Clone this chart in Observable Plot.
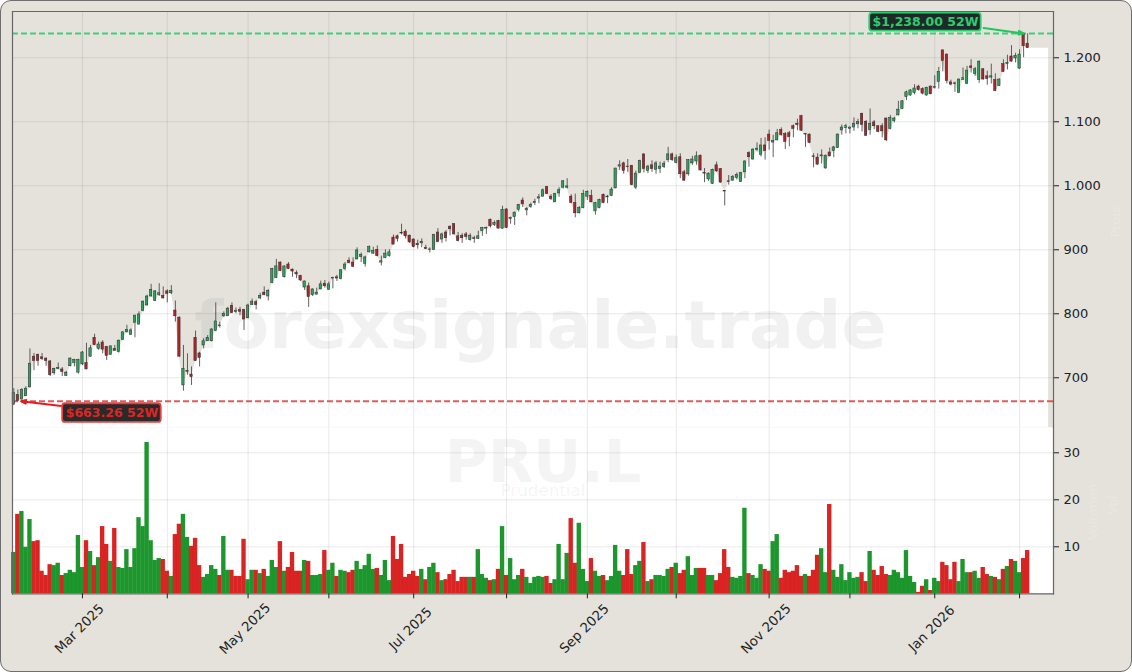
<!DOCTYPE html>
<html>
<head>
<meta charset="utf-8">
<script src="https://cdn.jsdelivr.net/npm/d3@7"></script>
<script src="https://cdn.jsdelivr.net/npm/@observablehq/plot@0.6"></script>
<style>
html,body{margin:0;padding:0;background:#fff;}
#fig{position:relative;width:1130px;height:670px;background:#e5e2dc;border:1px solid #6e6e6e;border-radius:11px;overflow:hidden;font-family:"DejaVu Sans",sans-serif;}
#page{position:absolute;left:-1px;top:-1px;width:1132px;height:672px;}
.side{position:absolute;color:#e9e7e2;font-size:13px;transform:translate(-50%,-50%) rotate(-90deg);white-space:nowrap;}
</style>
</head>
<body>
<div id="fig"><div id="page"></div></div>
<script>
const opens = [658,673,666,671,685,733,736,732,730,725.5,707,713.5,713,703,718,723,708,721,723,733,762.5,745,755,748,736,745,740,759,771,767,786,783,804,813,827,820,829,828,835,832,805,794,688,709,705,762.5,738,750.5,757,757,773,781.7,796,796,812.5,804,806,806,793,813.5,818,824,833,827,
848,856,880,857,877,869,863.5,859,841,843,829,830,838,847,837.5,855,857,854,870,883,880,885,888.5,878,896,894,900,880,887.5,890,919,921,926.6,928,922,916,909,910,903,899.5,899.5,927,916,927,936,940,921,922,924,915,918,917,929,933,947,938.5,945,933,963,948,951,962.5,
977,961.5,967,973,980,983,998,983,974,988,997,997,983,973,957,965,983,984,960,965,986,982,984,996,1030,1035,1030,1031,997,1020,1049,1023,1032,1025,1026,1029,1040,1049,1036,1044.5,1021,1018,1035,1038,1047,1020,1010,1003,1032,1026,992,1007,1008,1012.5,1006,1021,1051,1041,1056,1048,1063,1080,1067.5,1071,1087,1081,1082,1093,1097,1109,
1080,1080,1046,1044,1046,1027,1052,1054,1059,1086.5,1090,1089,1091,1096,1112.5,1100,1087,1099,1093,1093,1105,1089,1101,1110,1120,1138.5,1141,1145,1155,1151,1141,1155,1153,1162.5,1211.5,1205,1161.5,1160,1145,1165,1159,1186.5,1174.5,1165,1182,1171,1169,1165,1156,1190,1190,1202,1199,1183,1237.5,1222];
const highs = [683,681,683,686,745,738,737,738,731,727,715,723,716,710,731,729,729,741,754,750.5,768,756,758,749,750,750.5,759,772,782,776.5,798,803,820,829,846,836,847,842,837.5,844,820,795,750.5,737.5,717,773,740,761,766,776.5,817,787,803,810,817,809,810,807,815,823,821,832,842,837.5,
871,885,881,875,880,870,867,860,851,848,839,840,851,852,849.5,857,860,869,880,887.5,887.5,903,895,890,906,904,906,890,900,900,923,923,940,931,923,917,915,917,907,903,924,933,926,930,937.5,941,927,925,927,925,921,929,935,935.4,948,945,946,968,964,951,959,971,
981,966,973,979,986.5,995,999,986,988,997,1008,1011,986,987,967.5,993,992,993,974,979,987,985,997,1027,1039,1037,1041,1032,1023,1040,1050,1032,1039,1038,1037,1038,1060,1051,1048,1050,1024,1041,1046,1053,1048,1027,1020,1026,1037,1027,992.6,1016,1016,1020,1021,1039,1053,1058,1067,1074,1075,1087,1079,1088,1090.5,1083,1085,1095,1104,1110,
1081.5,1081,1050,1050,1056,1048,1059,1061.5,1081,1095,1096,1092,1106,1104,1113.5,1102,1120,1102,1094,1097,1106,1110,1107,1132,1133,1148,1150,1158,1157,1153,1154,1156,1172,1185,1212.5,1206,1165,1162,1167,1184,1186.5,1197,1185,1195,1183,1179,1190,1175,1167,1197,1204,1219,1207,1212.5,1238,1237.5];
const lows = [657,662.5,665,671,684,711,718,727,718,702,704,712.5,702,702,717,717,706,719,712.5,732,750,743,737.5,727,735,741.6,738.5,758,770,766,762.5,783,803,812,826,819,827,823,817,830,787,732,679,704,688,725.5,717,745,757,756,772,777.6,794,796,800,800,797,774,792,813,806,822,828,820,
847,855,866,856,869,857,855,850.5,836.5,810,827,829,837.5,840,836.5,839,850.5,853,867,878,872,884,880,873,895,893,889,875,886,888.5,908,912,923,917,910,903,901,903,900,895,899,911,910,912,922,923,912.5,910,915,913.5,910,916,921,924,934,936.5,933,932,933,940,938,959,
966,953,965,969,972,982,986,977,974,982,995,995,972,950,956,964,977,974,954,964,972,972,983,995,1024,1018,1021,1000,994,1019,1020,1019,1021,1018,1019,1027,1036,1038,1034.5,1011,1007,1015,1032,1032,1023,1005,1007,1002,1021,1004,968.5,1001,1007,1009,1005,1011,1029,1040,1053,1045,1040,1055.5,1044,1070,1077.5,1056.5,1061,1075,1086,1085,
1060,1066,1028,1032,1034,1026,1045,1044,1058,1079,1081,1081,1085,1089,1084,1077,1079,1087.5,1083,1075,1069,1087.5,1098,1109,1119,1133,1140,1142,1148,1142,1140,1142,1151,1151,1178,1159,1156,1146,1144,1164.6,1158,1176,1171,1160,1165,1157,1159,1147,1155,1177,1181,1193,1192,1182,1200,1215];
const closes = [676,663.5,681,683,722,726,726,729,726,704,714,715.6,709,708,730,728,728,739.5,713,746,751,752,744,734,749,742,758,771,775,774,797,799,819,827,837.5,835,832,824,831,836,796,733,714,711,701,726,731,757,762.5,775.5,788,780.7,800,808,801,803,803,791,813,819,813.5,828,829,836,
870,874,867,874,870,866,861.5,852,850.5,826,838,833,846,843,846,856,855,868,877,879,873.5,899,892,888,904,898,890,882,894,896,908,917,925.5,921,911.5,904,907,912.5,901,900.5,923.5,912,924,918,932,924,913.5,918,920,922,917,921,934,934.4,936.5,942,933,962.5,934,950,958,970,
971,963.5,970,975,982,993,987,979,987,993,1007,999,973,957,965,987,990.5,974,973,978,973,983,994,1027,1032,1023,1029,1001,1019,1039,1026,1030,1026,1035,1030,1034.5,1049,1040,1043,1018,1008,1040,1041,1046,1024,1019,1019,1025,1022.5,1005,991,1006,1014,1017,1020,1038,1044.5,1056.5,1058,1063,1054,1070,1070,1082,1079,1068.5,1076,1089,1095,1086,
1081,1067,1045,1033,1047.5,1047,1046,1060,1080,1091,1093,1091,1097,1100,1095,1078,1097,1093,1084,1085,1071,1106,1105,1119,1132,1146,1149,1152,1149.5,1144,1153,1143,1154,1178,1195,1163.5,1158,1159,1166,1168,1180,1184,1182,1194,1166,1167,1171,1148,1166,1178,1192,1194,1203,1205,1218,1215];
const volumes = [8.8,16.9,17.5,9.9,15.8,11.1,11.3,4.8,3.9,6.2,6.0,6.5,3.9,4.3,5.0,4.5,12.4,5.6,11.3,9.0,6.0,7.7,14.3,10.5,6.9,13.9,5.6,5.4,9.4,5.6,9.6,16.2,14.3,32.2,11.3,7.1,7.5,7.3,4.8,3.7,12.6,14.8,16.9,12.0,10.1,11.8,6.0,3.5,4.1,6.0,5.2,3.9,12.2,5.0,5.0,3.7,3.7,11.6,3.0,5.0,5.0,4.3,5.2,3.7,
7.1,5.6,11.1,4.8,5.6,8.8,4.8,4.8,7.1,6.9,3.9,3.9,4.1,9.2,5.0,6.5,3.7,5.0,4.8,4.5,5.0,6.9,5.2,6.0,8.4,5.2,5.4,3.9,7.1,2.8,12.2,7.3,10.5,3.5,4.1,4.8,3.7,5.2,3.0,5.6,6.5,4.5,2.8,3.0,4.1,5.0,2.6,3.5,3.5,3.5,3.5,9.4,4.1,3.3,2.8,3.0,5.2,14.3,3.9,7.5,3.0,3.9,
5.2,3.5,2.2,3.5,3.7,3.5,3.7,2.2,3.0,10.5,3.0,8.6,16.0,6.5,15.0,5.2,2.6,7.5,4.8,3.7,3.9,2.8,3.7,10.3,4.8,3.9,9.4,4.1,6.0,6.9,10.9,2.6,3.0,3.9,3.9,3.7,5.2,5.6,6.5,4.3,5.0,7.9,3.9,5.4,5.4,5.4,3.9,3.9,2.8,4.3,9.4,5.6,3.5,3.3,3.7,18.2,4.3,3.9,3.3,6.2,5.2,4.8,11.1,12.6,3.3,5.0,4.5,4.8,6.0,3.7,
4.1,3.7,5.0,8.2,9.6,4.5,19.0,5.0,3.5,6.2,2.8,4.5,3.3,3.5,4.5,2.6,9.0,5.0,3.9,5.8,4.1,3.9,5.0,4.5,3.3,9.2,3.7,2.4,0.3,1.6,3.0,0.7,3.3,2.6,6.7,6.0,3.0,6.7,2.6,7.3,4.5,4.5,4.8,3.3,5.6,4.1,3.7,3.5,3.0,5.2,5.8,7.3,6.9,4.5,7.5,9.2];
const volumeRedIdx = [1,5,6,7,8,9,12,18,20,22,23,25,37,38,40,41,44,45,46,51,54,55,56,57,60,62,66,68,69,70,71,73,77,80,83,84,90,94,95,96,97,98,99,100,102,105,107,108,109,110,111,112,114,118,120,122,126,132,133,138,139,143,146,151,152,153,156,158,163,165,166,170,171,174,175,176,177,182,186,187,190,191,192,193,194,195,197,198,199,202,210,211,213,214,215,216,224,225,227,230,231,232,233,237,240,241,243,245,247,250,251];
const tickIndex = [17,38,58,78,99,122,142,164,187,207,228,249];
const tickLabels = [{i:17,t:"Mar 2025"},{i:58,t:"May 2025"},{i:99,t:"Jul 2025"},{i:142,t:"Sep 2025"},{i:187,t:"Nov 2025"},{i:228,t:"Jan 2026"}];
const priceTicks = [700,800,900,1000,1100,1200];
const volumeTicks = [10,20,30];
const low52 = 663.26, high52 = 1238;

const candles = opens.map((o,i)=>({i,o,h:highs[i],l:lows[i],c:closes[i],up:closes[i]>=o}));
const xDom = [-0.32,257.4];
const priceTop = 1272.3, priceBottom = 622.3;
const shadeEnd = 256.2;
const lastIdx = candles.length-1;
const shade = [
  {x:xDom[0],y:Math.min(opens[0],closes[0])},
  ...candles.map(d=>({x:d.i,y:Math.min(d.o,d.c)})),
  {x:shadeEnd,y:Math.min(opens[lastIdx],closes[lastIdx])},
  {x:shadeEnd,y:priceBottom},
  {x:xDom[1],y:priceBottom}
];
const svgStyle = {position:"absolute",left:"0",background:"transparent",fontFamily:"'DejaVu Sans',sans-serif"};
const grid = {stroke:"#666",strokeOpacity:0.14,strokeWidth:1};
const frame = {stroke:"#666",strokeWidth:1.2};
const tickFmt = d=>d>=1000?d3.format(",")(d).replace(",","."):String(d);
const labelFont = {fontFamily:"'DejaVu Sans',sans-serif",fontWeight:"bold",fontSize:12.5};

const pricePlot = Plot.plot({
  width:1132,height:428,marginLeft:12,marginRight:79,marginTop:11,marginBottom:1,
  style:{...svgStyle,top:"0"},
  x:{domain:xDom,axis:null},
  y:{domain:[priceBottom,priceTop],axis:null},
  marks:[
    Plot.frame({fill:"#fff",stroke:"none"}),
    Plot.area(shade,{x1:"x",y1:()=>priceTop,y2:"y",fill:"#e5e2dc"}),
    Plot.text(["forexsignale.trade"],{x:()=>130.4,y:()=>780,text:d=>d,fontSize:66.4,fontWeight:"bold",fill:"#808080",fillOpacity:0.11,fontFamily:"'DejaVu Sans',sans-serif"}),
    Plot.ruleY(priceTicks,grid),
    Plot.ruleX(tickIndex,grid),
    Plot.ruleY([low52],{stroke:"#e04848",strokeWidth:2,strokeDasharray:"6,3",strokeOpacity:0.9}),
    Plot.ruleY([high52],{stroke:"#2ecc71",strokeWidth:2,strokeDasharray:"6,3",strokeOpacity:0.9}),
    Plot.ruleX(candles,{x:"i",y1:"l",y2:"h",stroke:"#3a3a3a",strokeWidth:0.8}),
    Plot.rect(candles,{x1:d=>d.i-0.29,x2:d=>d.i+0.29,y1:d=>Math.min(d.o,d.c),y2:d=>Math.max(d.o,d.c),fill:d=>d.up?"#2aa35f":"#ab2529",stroke:"#2b2b2b",strokeWidth:0.5}),
    Plot.arrow([{x1:240.1,y1:1246.6,x2:250,y2:high52}],{x1:"x1",y1:"y1",x2:"x2",y2:"y2",stroke:"#22c55e",strokeWidth:2,headLength:4,headAngle:40,bend:false}),
    Plot.arrow([{x1:11.8,y1:656,x2:1.8,y2:low52}],{x1:"x1",y1:"y1",x2:"x2",y2:"y2",stroke:"#e02020",strokeWidth:2,headLength:4,headAngle:40,bend:false}),
    Plot.rect([{x1:211.9,x2:239.5,y1:1241.6,y2:1269.7}],{x1:"x1",x2:"x2",y1:"y1",y2:"y2",fill:"#1f2a28",stroke:"#2ecc71",strokeWidth:1.8,rx:3}),
    Plot.rect([{x1:12.1,x2:36.5,y1:630.2,y2:659.4}],{x1:"x1",x2:"x2",y1:"y1",y2:"y2",fill:"#2a2a2a",stroke:"#e04040",strokeWidth:1.8,rx:3}),
    Plot.text(["$1,238.00 52W"],{x:()=>225.7,y:()=>1255.7,text:d=>d,fill:"#2ecc71",...labelFont}),
    Plot.text(["$663.26 52W"],{x:()=>24.3,y:()=>644.8,text:d=>d,fill:"#dc2626",...labelFont}),
    Plot.frame({anchor:"left",...frame}),
    Plot.frame({anchor:"top",...frame}),
    Plot.frame({anchor:"right",...frame}),
    Plot.axisY({anchor:"right",ticks:priceTicks,tickFormat:tickFmt,tickSize:5,tickPadding:5,label:null,fontSize:13,fill:"#222",stroke:"#222"})
  ]
});

const redSet = new Set(volumeRedIdx);
const vols = volumes.map((v,i)=>({i,v,red:redSet.has(i)}));
const volumePlot = Plot.plot({
  width:1132,height:245,marginLeft:12,marginRight:79,marginTop:0,marginBottom:78.7,
  style:{...svgStyle,top:"427px"},
  x:{domain:xDom,axis:null},
  y:{domain:[0,35.38],axis:null},
  marks:[
    Plot.frame({fill:"#fff",stroke:"none"}),
    Plot.text(["PRU.L"],{x:()=>131,y:()=>27.9,text:d=>d,fontSize:59,fontWeight:"bold",fill:"#808080",fillOpacity:0.09,fontFamily:"'DejaVu Sans',sans-serif"}),
    Plot.text(["Prudential"],{x:()=>131,y:()=>21.9,text:d=>d,fontSize:16.7,fill:"#808080",fillOpacity:0.09,fontFamily:"'DejaVu Sans',sans-serif"}),
    Plot.ruleY(volumeTicks,grid),
    Plot.ruleX(tickIndex,grid),
    Plot.rect(vols,{x1:d=>d.i-0.54,x2:d=>d.i+0.54,y1:()=>0,y2:"v",fill:d=>d.red?"#d71616":"#0f9020",fillOpacity:0.94}),
    Plot.frame({anchor:"left",...frame}),
    Plot.frame({anchor:"right",...frame}),
    Plot.frame({anchor:"bottom",...frame}),
    Plot.axisY({anchor:"right",ticks:volumeTicks,tickSize:5,tickPadding:5,label:null,fontSize:13,fill:"#222",stroke:"#222"}),
    Plot.axisX({anchor:"bottom",ticks:tickIndex,tickFormat:()=>"",tickSize:5,label:null,stroke:"#222"}),
    Plot.text(tickLabels,{x:"i",frameAnchor:"bottom",text:"t",rotate:-45,dy:38,textAnchor:"middle",fontSize:13.3,fill:"#222",fontFamily:"'DejaVu Sans',sans-serif"})
  ]
});
const page = document.getElementById("page");
page.append(volumePlot, pricePlot);
[["Preis",1115,222],["Volumen",1092,512],["Vol",1112,505]].forEach(([t,x,y])=>{
  const el=document.createElement("div");el.className="side";el.textContent=t;el.style.left=x+"px";el.style.top=y+"px";page.append(el);
});
</script>
</body>
</html>
